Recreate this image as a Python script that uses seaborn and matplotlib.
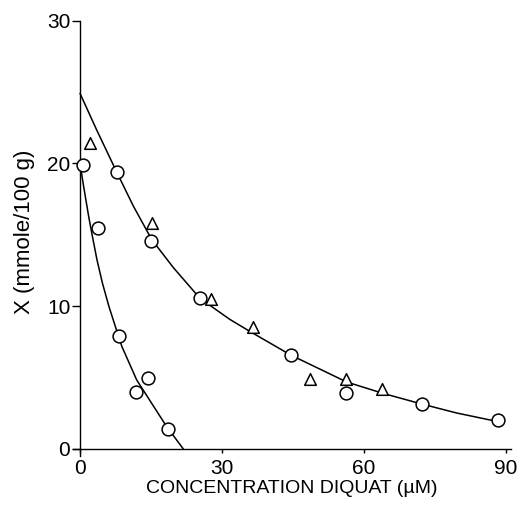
import matplotlib
matplotlib.use("Agg")
import matplotlib.pyplot as plt
import seaborn as sns

# Measured points: first (fast-falling) circle series
circ_a_x = [0.6, 3.9, 8.3, 11.8, 14.4, 18.5]
circ_a_y = [19.9, 15.5, 7.9, 4.0, 5.0, 1.4]

# Measured points: second circle series
circ_b_x = [7.8, 15.1, 25.4, 44.5, 56.3, 72.2, 88.4]
circ_b_y = [19.4, 14.6, 10.55, 6.6, 3.95, 3.15, 2.0]

# Measured points: triangle series
tri_x = [2.1, 15.3, 27.7, 36.5, 48.5, 56.3, 63.9]
tri_y = [21.4, 15.85, 10.5, 8.55, 4.9, 4.9, 4.2]

# Fitted curves
steep_x = [0, 0.21, 0.89, 1.84, 2.49, 3.59, 4.75, 6.13, 7.71, 8.87, 11.98, 18.32, 21.83]
steep_y = [19.9, 19.54, 18.14, 16.27, 15.11, 13.24, 11.6, 9.96, 8.33, 7.16, 4.83, 1.56, 0.0]

slow_x = [0, 3.53, 7.75, 11.26, 15.15, 19.71, 25.35, 31.69, 35.92, 44.52,
          56.35, 64.08, 72.2, 79.59, 88.38]
slow_y = [24.91, 22.34, 19.4, 17.02, 14.67, 12.71, 10.55, 9.07, 8.23, 6.58,
          4.69, 3.89, 3.15, 2.52, 1.91]

x_ticks = [0, 30, 60, 90]
y_ticks = [0, 10, 20, 30]

sns.set_style("ticks")
plt.rcParams["font.family"] = ["Liberation Sans", "DejaVu Sans"]
plt.rcParams["text.color"] = "black"
plt.rcParams["axes.labelcolor"] = "black"
plt.rcParams["xtick.color"] = "black"
plt.rcParams["ytick.color"] = "black"

fig = plt.figure(figsize=(5.19, 5.13), dpi=100)
ax = fig.add_axes([0.1405, 0.1109, 0.8435, 0.8487])

line_kw = dict(color="black", linewidth=1.1, sort=False, estimator=None, ax=ax, zorder=2)
sns.lineplot(x=steep_x, y=steep_y, **line_kw)
sns.lineplot(x=slow_x, y=slow_y, **line_kw)

pt_kw = dict(color="white", edgecolor="black", linewidth=1.1, ax=ax, zorder=3, legend=False)
sns.scatterplot(x=circ_a_x, y=circ_a_y, marker="o", s=85, **pt_kw)
sns.scatterplot(x=circ_b_x, y=circ_b_y, marker="o", s=85, **pt_kw)
sns.scatterplot(x=tri_x, y=tri_y, marker="^", s=70, **pt_kw)

ax.set_xlim(-1.5, 91)
ax.set_ylim(-0.5, 30)
ax.spines["left"].set_position(("data", 0))
ax.spines["bottom"].set_position(("data", 0))
ax.spines["left"].set_bounds(-0.5, 30)
ax.spines["bottom"].set_bounds(-1.5, 91)
for side in ("top", "right"):
    ax.spines[side].set_visible(False)
for side in ("left", "bottom"):
    ax.spines[side].set_linewidth(1.0)
    ax.spines[side].set_color("black")

ax.set_xticks(x_ticks)
ax.set_yticks(y_ticks)
ax.tick_params(axis="y", direction="out", length=6, width=1, pad=1, labelsize=15, colors="black")
ax.tick_params(axis="x", direction="out", length=3, width=1, pad=4, labelsize=15, colors="black")

ax.set_xlabel("CONCENTRATION DIQUAT (µM)", fontsize=14, labelpad=2, color="black")
ax.set_ylabel("X (mmole/100 g)", fontsize=16, color="black")
ax.yaxis.set_label_coords(-0.087, 0.515)

fig.savefig("out.png", dpi=100, facecolor="white")
